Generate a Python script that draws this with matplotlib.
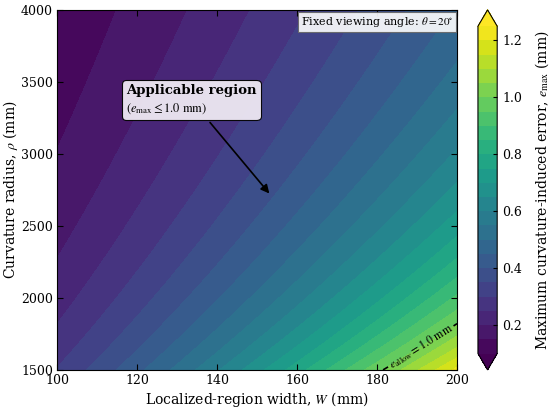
import numpy as np
import matplotlib
matplotlib.use('Agg')
import matplotlib.pyplot as plt
from matplotlib.offsetbox import TextArea, VPacker, AnnotationBbox

# parameters
theta_deg = 20.0
W_range = [100, 200]          # mm
rho_range = [1500, 4000]      # mm
e_allow = 1.0                 # mm
levels = np.arange(0.10, 1.2501, 0.05)
cbar_ticks = [0.2, 0.4, 0.6, 0.8, 1.0, 1.2]

plt.rcParams['font.family'] = 'DejaVu Serif'
plt.rcParams['mathtext.fontset'] = 'stix'
plt.rcParams['xtick.direction'] = 'in'
plt.rcParams['ytick.direction'] = 'in'

W = np.linspace(W_range[0], W_range[1], 301)
rho = np.linspace(rho_range[0], rho_range[1], 301)
WW, RR = np.meshgrid(W, rho)
# sagitta of the arc over width W, seen at the viewing angle
e_max = (RR - np.sqrt(RR**2 - (WW / 2) ** 2)) * np.tan(np.radians(theta_deg))

fig = plt.figure(figsize=(5.5, 4.11), dpi=100)
ax = fig.add_axes([0.104, 0.1, 0.727, 0.876])
cax = fig.add_axes([0.869, 0.1, 0.035, 0.876])

cf = ax.contourf(WW, RR, e_max, levels=levels, cmap='viridis', extend='both')
cs = ax.contour(WW, RR, e_max, levels=[e_allow], colors='k', linewidths=1.2)
ax.clabel(cs, fmt={e_allow: r'$e_{\mathrm{allow}}=1.0\ \mathrm{mm}$'},
          fontsize=8.5, inline=True, inline_spacing=2, manual=[(191, 1660)])

ax.set_xlim(*W_range)
ax.set_ylim(*rho_range)
ax.set_xticks([100, 120, 140, 160, 180, 200])
ax.set_yticks([1500, 2000, 2500, 3000, 3500, 4000])
ax.tick_params(top=True, right=True, labelsize=9, length=4, pad=3)
ax.set_xlabel(r'Localized-region width, $W$ (mm)', fontsize=10, labelpad=2)
ax.set_ylabel(r'Curvature radius, $\rho$ (mm)', fontsize=10, labelpad=1)

cb = fig.colorbar(cf, cax=cax, ticks=cbar_ticks)
cb.ax.tick_params(labelsize=9, direction='in', length=3)
cb.set_label(r'Maximum curvature-induced error, $e_{\max}$ (mm)', fontsize=10, labelpad=8)
cb.outline.set_linewidth(0.8)

# fixed angle note
ax.text(0.99, 0.985, r'Fixed viewing angle: $\theta=20^{\circ}$', transform=ax.transAxes,
        ha='right', va='top', fontsize=8,
        bbox=dict(boxstyle='square,pad=0.25', fc='white', ec='0.4', alpha=0.9, lw=0.8))

# applicable region callout
t1 = TextArea('Applicable region', textprops=dict(fontsize=9.5, fontweight='bold', family='DejaVu Serif'))
t2 = TextArea(r'$(e_{\max}\leq 1.0\ \mathrm{mm})$', textprops=dict(fontsize=9))
pack = VPacker(children=[t1, t2], align='left', pad=0, sep=3)
ab = AnnotationBbox(pack, (153.5, 2710), xybox=(133.5, 3375), xycoords='data', boxcoords='data',
                    bboxprops=dict(boxstyle='round,pad=0.3', fc='#efe9f3', ec='k', lw=0.8, alpha=0.95),
                    arrowprops=dict(arrowstyle='-|>', color='k', lw=1.2, mutation_scale=9),
                    pad=0.15)
ax.add_artist(ab)

fig.savefig('out.png', dpi=100)
